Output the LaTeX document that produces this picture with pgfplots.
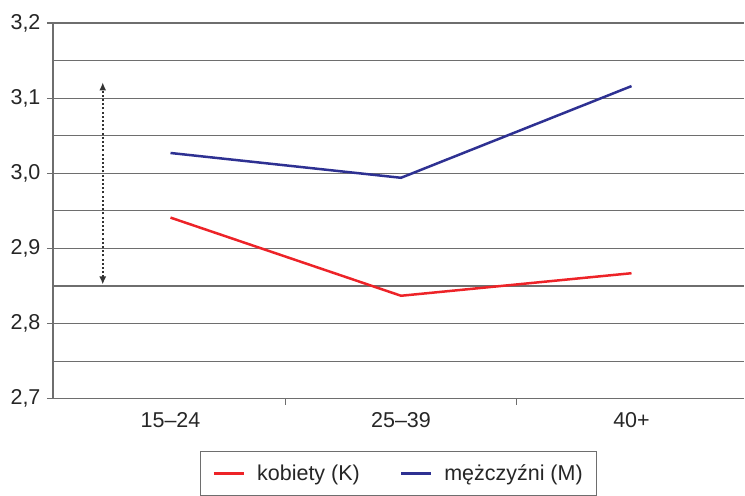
\documentclass[border=0pt]{standalone}
\usepackage{fontspec}
\setmainfont{Liberation Sans}
\usepackage{pgfplots}
\pgfplotsset{compat=1.18}
\usetikzlibrary{arrows.meta}
\definecolor{kred}{RGB}{237,35,40}
\definecolor{mblue}{RGB}{46,49,146}
\definecolor{gridgray}{RGB}{110,110,110}
\begin{document}
\begin{tikzpicture}
\begin{axis}[
  scale only axis,
  width=692pt, height=376pt,
  at={(0,0)}, anchor=south west,
  xmin=-0.51, xmax=2.49,
  ymin=2.7, ymax=3.2,
  axis lines*=left,
  axis line style={gridgray, line width=1.1pt},
  xtick={0.5,1.5}, xticklabels={},
  extra x ticks={0,1,2},
  extra x tick labels={15–24,25–39,40+},
  extra x tick style={major tick length=0pt, xticklabel style={yshift=-10pt}},
  ytick={2.7,2.8,2.9,3.0,3.1,3.2},
  minor ytick={2.75,2.85,2.95,3.05,3.15},
  ymajorgrids, yminorgrids,
  major grid style={gridgray, line width=1.1pt},
  minor grid style={gridgray, line width=1.1pt},
  major tick length=6pt, minor tick length=0pt,
  tick style={gridgray, line width=1.1pt},
  tick align=outside,
  yticklabel style={xshift=-3pt, /pgf/number format/.cd, use comma, fixed, fixed zerofill, precision=1, assume math mode=true},
  xticklabel style={/pgf/number format/assume math mode=true},
  tick label style={font=\fontsize{21.5}{25}\selectfont, text=black!85},
  legend style={at={(0.5,-0.14)}, anchor=north, draw=gridgray, line width=1pt,
    font=\fontsize{21.5}{25}\selectfont, text=black!85, legend columns=2,
    inner xsep=12pt, inner ysep=11pt,
    /tikz/every even column/.append style={column sep=38pt}},
  legend image code/.code={\draw[#1, line width=2.5pt] (0pt,0pt) -- (30pt,0pt); \path (40pt,0pt);},
  clip=false,
]
\addplot[kred, line width=2.5pt] coordinates {(0,2.941) (1,2.837) (2,2.867)};
\addlegendentry{kobiety (K)}
\addplot[mblue, line width=2.5pt] coordinates {(0,3.027) (1,2.994) (2,3.116)};
\addlegendentry{mężczyźni (M)}
\draw[dash pattern=on 2pt off 2.2pt, line width=1.6pt, black!80, {Latex[length=8pt,width=7pt]}-{Latex[length=8pt,width=7pt]}] (axis cs:-0.294,2.852) -- (axis cs:-0.294,3.121);
\end{axis}
\path[use as bounding box] (-53pt,-94pt) rectangle (692pt,399pt);
\end{tikzpicture}
\end{document}
